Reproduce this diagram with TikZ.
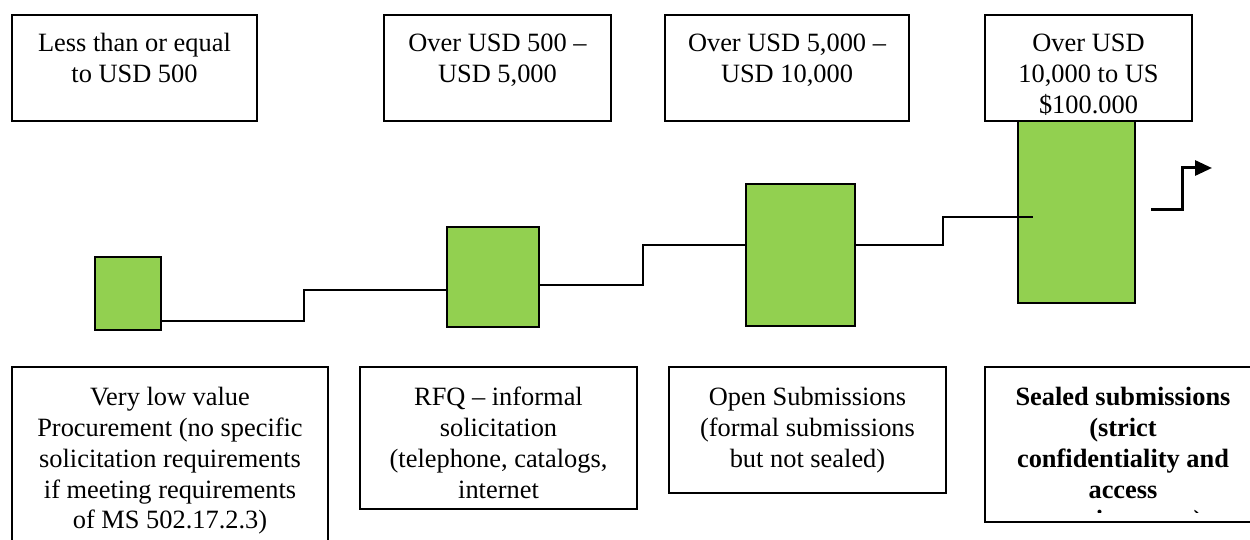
\documentclass[tikz,border=0pt]{standalone}
\usepackage{fontspec}
\setmainfont{Liberation Serif}
\usetikzlibrary{arrows.meta,calc}
\definecolor{stepgreen}{RGB}{146,208,80}
\newcommand\diagfont{\fontsize{26.4}{30.8}\selectfont}
\tikzset{
  frame/.style={draw=black, line width=2pt, fill=white, inner sep=0pt},
  bar/.style={draw=black, line width=2pt, fill=stepgreen, inner sep=0pt},
  lbl/.style={anchor=north, inner sep=0pt, align=center, font=\diagfont},
  link/.style={draw=black, line width=2pt},
  exitarrow/.style={draw=black, line width=3pt, -{Triangle[length=17pt,width=15pt]}}
}
\begin{document}
\begin{tikzpicture}[x=1pt,y=-1pt]
\useasboundingbox (0,0) rectangle (1250,540);
\clip (0,0) rectangle (1250,540);

% green level bars
\node[bar, minimum width=66pt,  minimum height=73pt]  (g1) at (128,293.5) {};
\node[bar, minimum width=92pt,  minimum height=100pt] (g2) at (493,277) {};
\node[bar, minimum width=109pt, minimum height=142pt] (g3) at (800.5,255) {};
\node[bar, minimum width=117pt, minimum height=193pt] (g4) at (1076.5,206.5) {};

% value thresholds
\node[frame, minimum width=245pt, minimum height=106pt] (t1) at (134.5,68) {};
\node[frame, minimum width=227pt, minimum height=106pt] (t2) at (497.5,68) {};
\node[frame, minimum width=244pt, minimum height=106pt] (t3) at (787,68) {};
\node[frame, minimum width=207pt, minimum height=106pt] (t4) at (1088.5,68) {};
\node[lbl] (t1x) at ([yshift=-16pt]t1.north) {\strut Less than or equal\\to USD 500};
\node[lbl] (t2x) at ([yshift=-16pt]t2.north) {\strut Over USD 500 --\\USD 5,000};
\node[lbl] (t3x) at ([yshift=-16pt]t3.north) {\strut Over USD 5,000 --\\USD 10,000};
\node[lbl] (t4x) at ([yshift=-16pt]t4.north) {\strut Over USD\\10,000 to US\\\$100.000};

% procurement methods
\node[frame, minimum width=316pt, minimum height=193pt] (b1) at (170,463.5) {};
\node[frame, minimum width=277pt, minimum height=142pt] (b2) at (498.5,438) {};
\node[frame, minimum width=277pt, minimum height=126pt] (b3) at (807.5,430) {};
\node[frame, minimum width=276pt, minimum height=155pt] (b4) at (1123,444.5) {};
\node[lbl] (b1x) at ([yshift=-18pt]b1.north) {\strut Very low value\\Procurement (no specific\\solicitation requirements\\if meeting requirements\\of MS 502.17.2.3)};
\node[lbl] (b2x) at ([yshift=-18pt]b2.north) {\strut RFQ -- informal\\solicitation\\(telephone, catalogs,\\internet};
\node[lbl] (b3x) at ([yshift=-18pt]b3.north) {\strut Open Submissions\\(formal submissions\\but not sealed)};
\begin{scope}
  \clip (985,367) rectangle (1261,512);
  \node[lbl, font=\diagfont\bfseries] (b4x) at ([yshift=-18pt]b4.north) {\strut Sealed submissions\\(strict\\confidentiality and\\access\\requirements)};
\end{scope}

% stepped connectors between the bars
\coordinate (s1) at (304,290);
\coordinate (s2) at (643,245);
\coordinate (s3) at (943,217);
\coordinate (g4in) at (1033,217);
\draw[link] ([yshift=10pt]g1.south east) -| (s1) -- (g2.west |- s1);
\draw[link] (g2.east |- 0,285) -| (s2) -- (g3.west |- s2);
\draw[link] (g3.east |- s2) -| (s3) -- (g4in);

% outgoing arrow
\coordinate (a0) at (1151,210);
\coordinate (a1) at (1212,168);
\draw[exitarrow] (a0) -- (1182,210) |- (a1);
\end{tikzpicture}
\end{document}
